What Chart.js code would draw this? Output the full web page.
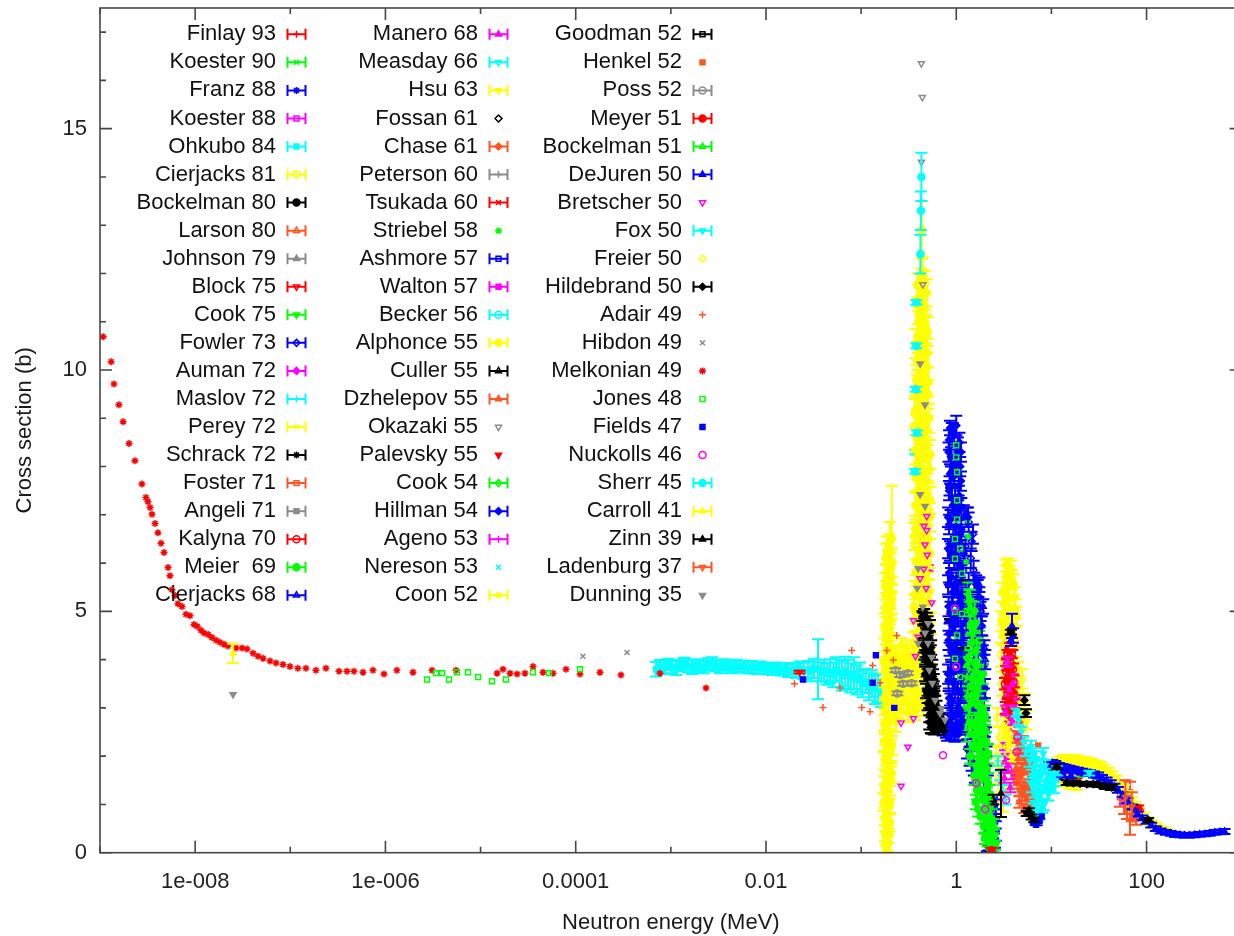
<!DOCTYPE html>
<html>
<head>
<meta charset="utf-8">
<title>Neutron total cross section</title>
<script src="https://cdn.jsdelivr.net/npm/chart.js@4.4.1/dist/chart.umd.min.js"></script>
<style>
  html, body { margin: 0; padding: 0; background: #fff; overflow: hidden; }
  #wrap { width: 1250px; height: 936px; }
</style>
</head>
<body>
<div id="wrap"><canvas id="xsChart" width="1250" height="936"></canvas></div>
<script>
// ==================== Measurements ====================
// each point: [neutron energy (MeV), cross section (b), uncertainty (b)]
const finlay93 = [[13.3, 1.61, 0.04], [18.4, 1.5, 0.04], [150, 0.44, 0.02], [300, 0.36, 0.02]];
const koester90 = [[19.5, 1.63, 0.05]];
const franz88 = [[12, 1.8, 0.06], [200, 0.38, 0.05]];
const koester88 = [[3.55, 2.6, 0.08], [3.25, 2.2, 0.08], [2.36, 0.4, 0.05], [2.4, 0.85, 0.05]];
const ohkubo84 = [
    [7.0e-4, 3.80, 0.15], [7.7e-4, 3.86, 0.13], [8.5e-4, 3.84, 0.14], [9.4e-4, 3.9, 0.12],
    [1.03e-3, 3.85, 0.13], [1.14e-3, 3.82, 0.14], [1.25e-3, 3.88, 0.12], [1.38e-3, 3.92, 0.12],
    [1.51e-3, 3.87, 0.13], [1.67e-3, 3.84, 0.14], [1.84e-3, 3.89, 0.12], [2.02e-3, 3.86, 0.13],
    [2.23e-3, 3.84, 0.12], [2.46e-3, 3.9, 0.13], [2.71e-3, 3.93, 0.12], [2.99e-3, 3.88, 0.12],
    [3.29e-3, 3.85, 0.13], [3.62e-3, 3.89, 0.12], [3.99e-3, 3.86, 0.14], [4.4e-3, 3.84, 0.12],
    [4.84e-3, 3.88, 0.12], [5.33e-3, 3.85, 0.12], [5.87e-3, 3.86, 0.12], [6.47e-3, 3.83, 0.12],
    [7.13e-3, 3.85, 0.12], [7.85e-3, 3.82, 0.12], [8.65e-3, 3.84, 0.12], [9.5e-3, 3.81, 0.11],
    [1.05e-2, 3.83, 0.11], [1.16e-2, 3.8, 0.12], [1.27e-2, 3.82, 0.12], [1.4e-2, 3.79, 0.12],
    [1.55e-2, 3.81, 0.12], [1.7e-2, 3.77, 0.13], [1.88e-2, 3.79, 0.14], [2.07e-2, 3.76, 0.14],
    [2.28e-2, 3.80, 0.16], [2.5e-2, 3.77, 0.17], [2.76e-2, 3.79, 0.18], [3.0e-2, 3.75, 0.2],
    [3.2e-2, 3.82, 0.2], [3.52e-2, 3.8, 0.62], [3.8e-2, 3.74, 0.2], [4.07e-2, 3.78, 0.22],
    [4.4e-2, 3.7, 0.22], [4.71e-2, 3.76, 0.25], [5.1e-2, 3.68, 0.25], [5.44e-2, 3.8, 0.25],
    [5.9e-2, 3.72, 0.28], [6.29e-2, 3.66, 0.3], [6.8e-2, 3.76, 0.3], [7.28e-2, 3.7, 0.3],
    [7.8e-2, 3.62, 0.3], [8.41e-2, 3.72, 0.33], [9.0e-2, 3.58, 0.3], [9.73e-2, 3.64, 0.3],
    [0.104, 3.5, 0.28], [0.112, 3.56, 0.25], [0.121, 3.44, 0.28], [0.130, 3.5, 0.28],
    [0.140, 3.38, 0.3], [0.150, 3.42, 0.3], [0.162, 3.3, 0.28]
];
const cierjacks81 = [
    [2.95, 4.1, 0.25], [4.25, 3.8, 0.25], [3.0, 3.5, 0.25], [4.3, 3.2, 0.25],
    [2.7, 2.8, 0.2], [3.2, 2.6, 0.25], [2.85, 2.4, 0.22], [3.45, 2.2, 0.2], [2.65, 2.0, 0.22],
    [3.05, 1.8, 0.25], [2.8, 1.6, 0.2], [3.3, 1.45, 0.22], [2.9, 1.25, 0.2], [3.1, 1.05, 0.2],
    [4.5, 3.8, 0.15], [4.9, 3.6, 0.2], [4.6, 3.35, 0.2], [5.2, 3.1, 0.2], [4.75, 2.9, 0.2],
    [5.5, 2.75, 0.2], [5.0, 2.55, 0.2]
];
const bockelman80 = [[0.45, 4.85, 0.12], [0.55, 2.72, 0.25], [0.6, 3.1, 0.15]];
const larson80 = [[4.55, 1.5, 0.1], [5.6, 1.25, 0.1]];
const johnson79 = [[0.62, 2.7, 0.05], [0.58, 3.35, 0.05]];
const block75 = [[2.25e-2, 3.74, 0.03]];
const cook75 = [[1.5, 3.0, 0.15], [1.75, 2.3, 0.15], [2.0, 1.3, 0.15]];
const fowler73 = [
    [1.2, 7.05, 0.15], [1.35, 6.85, 0.2], [1.5, 6.6, 0.2], [1.25, 6.35, 0.2], [1.42, 6.1, 0.2],
    [1.18, 5.85, 0.2], [1.55, 5.6, 0.2], [1.3, 5.4, 0.22], [1.45, 5.15, 0.2], [1.22, 4.9, 0.2],
    [1.38, 4.65, 0.2], [1.52, 4.4, 0.22], [1.17, 4.15, 0.2], [1.33, 3.9, 0.2], [1.48, 3.65, 0.2],
    [1.26, 3.4, 0.22], [1.56, 3.15, 0.2], [1.4, 2.9, 0.2], [1.2, 2.65, 0.2], [1.5, 2.4, 0.2],
    [1.3, 2.15, 0.2], [1.45, 1.9, 0.2], [1.57, 1.65, 0.2],
    [1.28, 6.95, 0.2], [1.45, 6.45, 0.2], [1.2, 6.2, 0.2], [1.52, 5.85, 0.2], [1.35, 5.6, 0.2],
    [1.16, 5.25, 0.2], [1.5, 5.0, 0.2], [1.28, 4.75, 0.2], [1.44, 4.5, 0.2], [1.19, 4.3, 0.2],
    [1.56, 4.0, 0.2], [1.3, 3.75, 0.2], [1.42, 3.5, 0.2], [1.2, 3.2, 0.2], [1.52, 2.95, 0.2],
    [1.33, 2.7, 0.2], [1.58, 2.3, 0.2], [1.38, 2.0, 0.2], [1.53, 1.8, 0.2],
    [1.62, 5.6, 0.15], [1.75, 5.3, 0.2], [1.66, 5.0, 0.2], [1.85, 4.7, 0.2], [1.7, 4.4, 0.2],
    [1.9, 4.1, 0.2], [1.64, 3.8, 0.2], [1.8, 3.5, 0.2], [1.95, 3.2, 0.2], [1.72, 2.9, 0.2],
    [2.0, 2.6, 0.2], [1.83, 2.3, 0.2], [2.08, 2.0, 0.2], [1.9, 1.7, 0.2], [2.15, 1.4, 0.2],
    [2.0, 1.1, 0.2], [2.22, 0.85, 0.2], [2.1, 0.6, 0.2], [2.3, 0.4, 0.2], [2.2, 0.2, 0.15],
    [2.35, 0.1, 0.1], [2.4, 0.5, 0.2], [2.45, 0.25, 0.15],
    [1.68, 5.45, 0.2], [1.8, 5.0, 0.2], [1.72, 4.6, 0.2], [1.88, 4.3, 0.2], [1.7, 3.95, 0.2],
    [1.85, 3.65, 0.2], [2.0, 3.4, 0.2], [1.78, 3.05, 0.2], [1.95, 2.75, 0.2], [2.05, 2.4, 0.2],
    [1.88, 2.1, 0.2], [2.12, 1.8, 0.2], [1.98, 1.5, 0.2], [2.2, 1.2, 0.2], [2.1, 0.95, 0.2],
    [2.3, 0.7, 0.2], [2.25, 0.3, 0.15], [2.42, 0.15, 0.1], [2.5, 0.6, 0.2], [2.6, 0.45, 0.2],
    [2.38, 1.05, 0.1],
    [2.1, 0.15, 0.12], [2.55, 0.3, 0.2], [2.6, 0.7, 0.2], [2.3, 0.9, 0.15], [2.5, 1.0, 0.1]
];
const auman72 = [[0.50, 5.9, 0.06], [0.45, 6.55, 0.06]];
const maslov72 = [[2.9, 1.6, 0.1], [3.1, 1.3, 0.1], [3.3, 1.1, 0.1], [2.75, 1.9, 0.1]];
const perey72 = [[12.5, 1.45, 0.08], [15.5, 1.4, 0.08], [18.5, 1.38, 0.08]];
const schrack72 = [[0.88, 7.6, 0.04], [0.92, 6.2, 0.04], [1.12, 5.6, 0.04], [0.86, 4.8, 0.04], [1.2, 4.2, 0.04], [1.42, 3.3, 0.04]];
const foster71 = [[52.6, 1.2, 0.25], [58, 1.1, 0.3], [62.3, 1.0, 0.3], [67, 0.92, 0.55], [72, 0.85, 0.2], [77.5, 0.78, 0.2], [56, 1.3, 0.2]];
const angeli71 = [[21.5, 1.65, 0.04], [30, 1.58, 0.04]];
const kalyna70 = [
    [3.3, 3.0, 0.12], [3.9, 3.05, 0.12], [3.45, 3.3, 0.12], [3.75, 3.45, 0.12], [3.55, 3.65, 0.12],
    [3.95, 3.8, 0.12], [3.4, 3.9, 0.12], [3.65, 4.05, 0.12], [3.85, 4.15, 0.12], [3.55, 4.25, 0.1],
    [3.7, 4.32, 0.08], [3.6, 2.85, 0.12], [4.05, 3.3, 0.12], [3.25, 3.5, 0.12],
    [3.5, 3.1, 0.12], [3.8, 3.35, 0.12], [3.35, 3.75, 0.12], [3.7, 3.95, 0.12], [3.9, 4.3, 0.1],
    [3.45, 4.1, 0.1], [4.0, 3.55, 0.12], [3.6, 3.45, 0.12]
];
const meier69 = [
    [1.3, 5.4, 0.2], [1.55, 5.0, 0.2], [1.4, 4.7, 0.2], [1.75, 4.4, 0.2], [1.25, 4.1, 0.2],
    [1.6, 3.9, 0.2], [1.9, 3.7, 0.2], [1.45, 3.45, 0.2], [1.2, 3.2, 0.2], [1.7, 3.05, 0.2],
    [2.0, 2.85, 0.2], [1.35, 2.7, 0.2], [1.55, 2.45, 0.2], [1.85, 2.25, 0.2], [2.15, 2.05, 0.2],
    [1.4, 2.0, 0.15], [1.65, 1.8, 0.2], [2.0, 1.55, 0.2], [1.8, 1.3, 0.2], [2.25, 1.2, 0.2],
    [1.6, 1.05, 0.15], [2.05, 0.9, 0.2], [2.35, 0.7, 0.2], [1.95, 0.55, 0.15], [2.2, 0.4, 0.15],
    [2.5, 0.35, 0.15], [2.4, 0.15, 0.1],
    [1.35, 5.1, 0.2], [1.5, 4.55, 0.2], [1.65, 4.2, 0.2], [1.3, 3.8, 0.2], [1.8, 3.55, 0.2],
    [1.55, 3.25, 0.2], [1.9, 2.95, 0.2], [1.28, 2.95, 0.2], [1.45, 2.65, 0.2], [1.75, 2.5, 0.2],
    [2.05, 2.3, 0.2], [1.5, 2.2, 0.2], [1.95, 1.9, 0.2], [1.55, 1.6, 0.2], [1.75, 1.5, 0.2],
    [2.15, 1.45, 0.2], [1.9, 1.1, 0.2], [2.25, 0.95, 0.2], [1.7, 0.9, 0.15], [2.1, 0.65, 0.15],
    [2.3, 0.5, 0.15], [2.45, 0.55, 0.15], [2.0, 0.3, 0.12], [2.3, 0.2, 0.12], [2.55, 0.15, 0.1],
    [1.25, 2.5, 0.2], [1.2, 3.6, 0.2],
    [1.4, 5.25, 0.2], [1.6, 4.75, 0.2], [1.45, 4.35, 0.2], [1.35, 4.0, 0.2], [1.7, 3.8, 0.2],
    [1.5, 3.6, 0.2], [1.65, 3.35, 0.2], [1.4, 3.1, 0.2], [1.8, 2.8, 0.2], [1.6, 2.7, 0.2],
    [1.95, 2.55, 0.2], [1.7, 2.15, 0.2], [1.85, 1.7, 0.2], [2.05, 1.75, 0.2], [1.65, 1.3, 0.2],
    [2.1, 1.15, 0.2], [1.8, 0.75, 0.15], [2.2, 0.75, 0.15], [2.15, 0.25, 0.12], [2.4, 0.35, 0.12]
];
const cierjacks68 = [[1.75, 5.55, 0.15], [1.92, 5.1, 0.15], [1.85, 4.7, 0.2], [1.98, 4.25, 0.15], [2.02, 4.0, 0.2]];
const manero68 = [
    [3.45, 3.95, 0.1], [3.9, 3.6, 0.1], [3.6, 3.35, 0.1], [4.1, 3.1, 0.1], [3.35, 2.95, 0.1],
    [3.8, 2.75, 0.1], [3.5, 1.8, 0.1], [3.2, 1.55, 0.1], [3.7, 1.35, 0.1]
];
const measday66 = [[6.0, 2.0, 0.1], [7.0, 1.2, 0.1]];
const hsu63 = [[14.1, 1.95, 0.05]];
const fossan61 = [[0.49, 3.9], [0.55, 3.0]];
const chase61 = [[4.1, 2.4, 0.1], [4.6, 2.7, 0.1]];
const peterson60 = [[24, 1.66, 0.05]];
const tsukada60 = [[3.6, 3.7, 0.1], [3.8, 3.2, 0.1]];
const striebel58 = [[1.33, 6.88], [1.33, 6.55], [1.27, 6.02], [1.27, 5.02], [1.33, 4.09], [1.24, 3.85]];
const ashmore57 = [[7.0, 0.62, 0.05]];
const walton57 = [[3.4, 1.95, 0.1], [4.0, 1.6, 0.08]];
const becker56 = [[0.372, 8.3, 0.05]];
const alphonce55 = [
    // 0.2 MeV region
    [0.186, 0.08, 0.12], [0.182, 0.3, 0.15], [0.192, 0.52, 0.15], [0.178, 0.75, 0.18], [0.197, 0.95, 0.16],
    [0.186, 1.18, 0.2], [0.174, 1.4, 0.18], [0.205, 1.58, 0.2], [0.19, 1.8, 0.2], [0.18, 2.02, 0.22],
    [0.211, 2.22, 0.2], [0.193, 2.45, 0.24], [0.176, 2.66, 0.2], [0.215, 2.88, 0.22], [0.199, 3.1, 0.22],
    [0.183, 3.3, 0.25], [0.222, 3.5, 0.22], [0.188, 3.72, 0.25], [0.174, 3.95, 0.22], [0.208, 4.15, 0.25],
    [0.194, 4.38, 0.25], [0.18, 4.6, 0.28], [0.202, 4.8, 0.25], [0.187, 5.02, 0.28], [0.213, 5.25, 0.3],
    [0.196, 5.45, 0.3], [0.183, 5.68, 0.3], [0.205, 5.9, 0.3], [0.192, 6.12, 0.3], [0.21, 6.5, 1.1],
    [0.2, 6.2, 0.65],
    [0.19, 0.18, 0.15], [0.178, 0.4, 0.16], [0.2, 0.62, 0.18], [0.185, 0.85, 0.17], [0.172, 1.05, 0.18],
    [0.195, 1.28, 0.2], [0.183, 1.5, 0.2], [0.199, 1.7, 0.2], [0.176, 1.92, 0.2], [0.206, 2.12, 0.22],
    [0.188, 2.34, 0.22], [0.181, 2.56, 0.2], [0.203, 2.77, 0.22], [0.192, 2.98, 0.22], [0.175, 3.2, 0.22],
    [0.21, 3.4, 0.22], [0.196, 3.62, 0.24], [0.18, 3.84, 0.22], [0.216, 4.05, 0.24], [0.186, 4.26, 0.25],
    [0.2, 4.48, 0.25], [0.176, 4.7, 0.26], [0.194, 4.92, 0.26], [0.208, 5.13, 0.28], [0.181, 5.35, 0.28],
    [0.2, 5.56, 0.3], [0.19, 5.78, 0.3], [0.212, 6.0, 0.3], [0.185, 6.25, 0.3], [0.198, 6.35, 0.25],
    [0.183, 0.12, 0.12], [0.195, 0.35, 0.15], [0.18, 0.58, 0.15], [0.19, 0.8, 0.18], [0.202, 1.0, 0.18],
    [0.178, 1.22, 0.2], [0.19, 1.45, 0.2], [0.21, 1.65, 0.2], [0.185, 1.88, 0.2], [0.197, 2.08, 0.2],
    [0.174, 2.3, 0.22], [0.2, 2.5, 0.22], [0.188, 2.72, 0.22], [0.179, 2.92, 0.22], [0.207, 3.15, 0.22],
    [0.19, 3.36, 0.22], [0.201, 3.58, 0.24], [0.177, 3.78, 0.22], [0.193, 4.0, 0.24], [0.211, 4.22, 0.25],
    [0.182, 4.42, 0.25], [0.197, 4.65, 0.26], [0.186, 4.86, 0.26], [0.204, 5.08, 0.28], [0.19, 5.3, 0.28],
    [0.178, 5.52, 0.28], [0.207, 5.72, 0.3], [0.195, 5.95, 0.3], [0.18, 6.1, 0.3],
    [0.244, 3.0, 0.2], [0.27, 3.25, 0.2], [0.3, 3.1, 0.22], [0.33, 3.4, 0.2], [0.255, 3.6, 0.22],
    [0.285, 3.85, 0.2], [0.315, 3.7, 0.25], [0.35, 3.95, 0.2], [0.24, 4.1, 0.2], [0.265, 4.3, 0.15],
    [0.36, 3.2, 0.2], [0.233, 2.7, 0.2],
    [0.25, 3.45, 0.2], [0.29, 3.55, 0.2], [0.32, 4.05, 0.2], [0.275, 4.0, 0.18], [0.34, 3.65, 0.2],
    [0.26, 2.95, 0.18], [0.31, 2.9, 0.2], [0.35, 3.05, 0.2], [0.238, 3.9, 0.2], [0.3, 4.25, 0.15],
    // 0.43 MeV resonance
    [0.37, 2.95, 0.2], [0.45, 3.05, 0.22], [0.52, 3.2, 0.2], [0.40, 3.3, 0.25], [0.49, 3.5, 0.22],
    [0.36, 3.6, 0.2], [0.43, 3.75, 0.25], [0.54, 3.9, 0.2], [0.39, 4.05, 0.25], [0.47, 4.2, 0.25],
    [0.355, 4.35, 0.22], [0.51, 4.5, 0.25], [0.42, 4.65, 0.28], [0.38, 4.85, 0.25], [0.48, 5.0, 0.28],
    [0.44, 5.2, 0.3], [0.365, 5.35, 0.28], [0.50, 5.5, 0.3], [0.41, 5.7, 0.3], [0.46, 5.9, 0.3],
    [0.375, 6.05, 0.3], [0.53, 6.2, 0.3], [0.43, 6.4, 0.3], [0.395, 6.6, 0.3], [0.49, 6.8, 0.32],
    [0.45, 7.0, 0.3], [0.37, 7.2, 0.3], [0.5, 7.4, 0.3], [0.42, 7.6, 0.32], [0.46, 7.85, 0.3],
    [0.385, 8.05, 0.32], [0.53, 8.25, 0.3], [0.44, 8.45, 0.3], [0.40, 8.7, 0.32], [0.48, 8.9, 0.3],
    [0.365, 9.1, 0.3], [0.43, 9.3, 0.32], [0.51, 9.5, 0.3], [0.39, 9.7, 0.3], [0.455, 9.9, 0.32],
    [0.415, 10.15, 0.3], [0.5, 10.35, 0.3], [0.375, 10.55, 0.3], [0.44, 10.75, 0.32], [0.47, 10.95, 0.3],
    [0.405, 11.15, 0.3], [0.43, 11.4, 0.3], [0.49, 11.6, 0.28], [0.39, 11.75, 0.25],
    [0.41, 3.15, 0.2], [0.48, 3.4, 0.22], [0.38, 3.7, 0.2], [0.53, 3.6, 0.2], [0.44, 3.95, 0.22],
    [0.5, 4.1, 0.22], [0.37, 4.2, 0.2], [0.45, 4.45, 0.25], [0.4, 4.55, 0.22], [0.54, 4.75, 0.22],
    [0.47, 4.9, 0.25], [0.36, 5.1, 0.25], [0.42, 5.3, 0.25], [0.52, 5.4, 0.25], [0.39, 5.6, 0.25],
    [0.48, 5.75, 0.28], [0.44, 6.0, 0.28], [0.405, 6.25, 0.28], [0.51, 6.5, 0.28], [0.37, 6.7, 0.28],
    [0.46, 6.9, 0.3], [0.42, 7.1, 0.3], [0.535, 7.3, 0.28], [0.39, 7.5, 0.3], [0.47, 7.7, 0.3],
    [0.43, 7.95, 0.3], [0.5, 8.15, 0.3], [0.37, 8.35, 0.3], [0.455, 8.55, 0.3], [0.415, 8.8, 0.3],
    [0.52, 9.0, 0.3], [0.395, 9.2, 0.3], [0.47, 9.4, 0.3], [0.44, 9.6, 0.3], [0.38, 9.8, 0.3],
    [0.49, 10.05, 0.3], [0.425, 10.25, 0.3], [0.455, 10.45, 0.3], [0.395, 10.65, 0.3], [0.48, 10.85, 0.3],
    [0.42, 11.05, 0.3], [0.46, 11.25, 0.3], [0.4, 11.5, 0.28], [0.445, 11.7, 0.25],
    [0.4, 3.05, 0.2], [0.5, 3.3, 0.2], [0.36, 3.45, 0.2], [0.46, 3.6, 0.22], [0.42, 3.85, 0.22],
    [0.52, 4.0, 0.2], [0.39, 4.3, 0.22], [0.48, 4.6, 0.25], [0.43, 4.8, 0.25], [0.37, 5.0, 0.25],
    [0.51, 5.2, 0.25], [0.455, 5.45, 0.25], [0.38, 5.8, 0.28], [0.5, 5.95, 0.28], [0.42, 6.15, 0.28],
    [0.47, 6.35, 0.28], [0.36, 6.55, 0.28], [0.44, 6.75, 0.3], [0.53, 6.95, 0.3], [0.4, 7.15, 0.3],
    [0.48, 7.35, 0.3], [0.45, 7.55, 0.3], [0.38, 7.75, 0.3], [0.52, 7.95, 0.3], [0.41, 8.2, 0.3],
    [0.47, 8.4, 0.3], [0.385, 8.6, 0.3], [0.5, 8.75, 0.3], [0.43, 8.95, 0.3], [0.37, 9.15, 0.3],
    [0.46, 9.35, 0.3], [0.41, 9.55, 0.3], [0.51, 9.75, 0.3], [0.43, 9.95, 0.3], [0.385, 10.2, 0.3],
    [0.47, 10.4, 0.3], [0.44, 10.6, 0.3], [0.5, 10.8, 0.3], [0.4, 11.0, 0.3], [0.45, 11.3, 0.3],
    [0.42, 11.55, 0.28], [0.47, 11.8, 0.25], [0.43, 11.9, 0.2],
    [0.435, 12.9, 0.6], [0.425, 12.4, 0.4], [0.445, 12.05, 0.3],
    // 3.5 MeV peak
    [3.1, 4.5, 0.2], [3.9, 4.7, 0.2], [3.4, 4.9, 0.22], [4.2, 5.05, 0.2], [3.6, 5.25, 0.25],
    [3.05, 5.4, 0.2], [4.0, 5.55, 0.22], [3.3, 5.7, 0.25], [3.75, 5.85, 0.2], [3.5, 5.95, 0.15],
    [3.2, 4.65, 0.2], [3.7, 4.85, 0.2], [4.1, 5.3, 0.2], [3.45, 5.5, 0.22], [3.85, 5.65, 0.2],
    [3.15, 5.15, 0.2], [3.55, 4.6, 0.2], [4.15, 4.45, 0.2], [3.65, 5.8, 0.15], [3.35, 5.95, 0.12],
    [2.98, 4.8, 0.2], [4.3, 4.9, 0.2],
    [3.4, 2.5, 0.1], [3.65, 2.3, 0.1], [3.95, 2.0, 0.1],
    // 10 - 150 MeV
    [10.5, 1.75, 0.08], [11.5, 1.85, 0.1], [12.5, 1.9, 0.1], [13.5, 1.95, 0.08], [15, 1.93, 0.1],
    [16.5, 1.95, 0.08], [18, 1.92, 0.1], [20, 1.9, 0.1], [22, 1.88, 0.1], [24.5, 1.86, 0.1],
    [27, 1.84, 0.1], [30, 1.8, 0.1], [33, 1.78, 0.1], [36, 1.72, 0.1], [40, 1.66, 0.1],
    [44, 1.58, 0.1], [48, 1.5, 0.1], [53, 1.4, 0.1], [58, 1.3, 0.1], [64, 1.18, 0.1],
    [70, 1.06, 0.1], [77, 0.95, 0.1], [85, 0.84, 0.08], [94, 0.74, 0.08], [104, 0.66, 0.08],
    [115, 0.6, 0.06], [127, 0.55, 0.06], [140, 0.5, 0.05], [155, 0.47, 0.05]
];
const culler55 = [[2.45, 1.1, 0.1]];
const dzhelepov55 = [
    [4.4, 2.4, 0.12], [5.0, 2.3, 0.12], [4.7, 2.15, 0.12], [5.6, 2.05, 0.12], [4.5, 1.95, 0.12],
    [5.3, 1.85, 0.12], [6.2, 1.75, 0.12], [4.8, 1.65, 0.12], [5.8, 1.55, 0.12], [4.4, 1.45, 0.12],
    [5.1, 1.35, 0.12], [6.5, 1.3, 0.12], [4.9, 1.2, 0.12], [5.5, 1.1, 0.12], [4.6, 1.05, 0.12],
    [6.0, 0.98, 0.1], [5.2, 0.92, 0.1], [6.8, 1.5, 0.1], [4.25, 1.75, 0.1],
    [4.6, 2.25, 0.12], [5.4, 1.95, 0.12], [4.9, 1.75, 0.12], [5.9, 1.4, 0.12], [4.7, 1.3, 0.12],
    [5.3, 1.2, 0.12], [6.3, 1.1, 0.12], [4.45, 1.6, 0.12], [5.7, 1.8, 0.12], [6.1, 1.5, 0.12],
    [82, 0.8, 0.1]
];
const okazaki55 = [[0.43, 16.35], [0.44, 15.65], [0.43, 14.31], [0.445, 11.77]];
const palevsky55 = [[3.7, 2.95], [3.5, 3.55]];
const cook54 = [[1.3, 3.4, 0.1], [1.6, 2.6, 0.1], [1.85, 1.9, 0.1]];
const hillman54 = [
    [1.0, 8.85, 0.2], [1.33, 6.95, 0.2], [1.71, 5.5, 0.2],
    [0.86, 8.8, 0.15], [0.95, 8.65, 0.2], [1.08, 8.5, 0.2], [0.83, 8.3, 0.2], [1.0, 8.1, 0.25],
    [0.9, 7.9, 0.2], [1.12, 7.7, 0.2], [0.84, 7.5, 0.2], [0.97, 7.3, 0.25], [1.05, 7.1, 0.2],
    [0.87, 6.9, 0.2], [1.13, 6.7, 0.22], [0.93, 6.5, 0.2], [0.82, 6.3, 0.2], [1.02, 6.1, 0.22],
    [1.1, 5.9, 0.2], [0.88, 5.7, 0.2], [0.96, 5.5, 0.22], [1.14, 5.3, 0.2], [0.83, 5.1, 0.2],
    [1.04, 4.9, 0.22], [0.91, 4.7, 0.2], [1.12, 4.5, 0.2], [0.85, 4.3, 0.22], [0.99, 4.1, 0.2],
    [1.08, 3.9, 0.2], [0.82, 3.7, 0.2], [0.94, 3.5, 0.22], [1.13, 3.3, 0.2], [0.87, 3.1, 0.2],
    [1.01, 2.9, 0.2], [0.84, 2.7, 0.2], [0.92, 2.55, 0.15], [0.78, 2.5, 0.12], [0.72, 2.55, 0.12],
    [0.68, 2.6, 0.1], [1.1, 2.6, 0.15],
    [0.9, 8.7, 0.2], [1.04, 8.4, 0.2], [0.88, 8.2, 0.2], [1.1, 8.0, 0.2], [0.95, 7.8, 0.2],
    [0.85, 7.6, 0.2], [1.07, 7.4, 0.2], [0.92, 7.2, 0.2], [1.0, 7.0, 0.2], [0.84, 6.8, 0.2],
    [1.1, 6.6, 0.2], [0.97, 6.4, 0.2], [0.89, 6.2, 0.2], [1.06, 6.0, 0.2], [0.84, 5.8, 0.2],
    [1.0, 5.6, 0.2], [0.92, 5.4, 0.2], [1.09, 5.2, 0.2], [0.87, 5.0, 0.2], [0.98, 4.8, 0.2],
    [1.14, 4.6, 0.2], [0.83, 4.4, 0.2], [0.94, 4.2, 0.2], [1.05, 4.0, 0.2], [0.88, 3.8, 0.2],
    [1.12, 3.6, 0.2], [0.97, 3.4, 0.2], [0.84, 3.2, 0.2], [1.06, 3.0, 0.2], [0.9, 2.8, 0.2],
    [1.14, 2.7, 0.2], [0.96, 2.45, 0.15], [0.8, 2.42, 0.1],
    [0.92, 8.75, 0.15], [0.84, 8.55, 0.2], [1.12, 8.3, 0.2], [0.97, 8.05, 0.2], [0.86, 7.85, 0.2],
    [1.06, 7.6, 0.2], [0.9, 7.35, 0.2], [1.13, 7.15, 0.2], [0.82, 6.95, 0.2], [0.99, 6.75, 0.2],
    [1.08, 6.45, 0.2], [0.86, 6.25, 0.2], [0.95, 6.05, 0.2], [1.13, 5.75, 0.2], [0.82, 5.55, 0.2],
    [1.05, 5.35, 0.2], [0.9, 5.15, 0.2], [1.11, 4.95, 0.2], [0.95, 4.75, 0.2], [0.85, 4.55, 0.2],
    [1.02, 4.35, 0.2], [0.89, 4.15, 0.2], [1.14, 3.95, 0.2], [0.93, 3.75, 0.2], [0.83, 3.55, 0.2],
    [1.04, 3.35, 0.2], [0.91, 3.15, 0.2], [1.1, 2.95, 0.2], [0.86, 2.85, 0.2], [1.0, 2.65, 0.2],
    [0.88, 2.5, 0.15], [1.05, 2.45, 0.12]
];
const ageno53 = [[59, 1.09, 0.08]];
const nereson53 = [[266, 0.36]];
const coon52 = [[110, 0.6, 0.06], [120, 0.55, 0.06], [132, 0.5, 0.05], [145, 0.48, 0.05], [165, 0.46, 0.04]];
const goodman52 = [[5.9, 0.8, 0.04]];
const henkel52 = [[7.25, 2.22]];
const poss52 = [[0.229, 3.78, 0.04], [0.257, 3.68, 0.04], [0.309, 3.72, 0.04], [0.339, 3.51, 0.04], [0.276, 3.5, 0.04], [0.24, 3.3, 0.04]];
const meyer51 = [[81.8, 0.92, 0.06], [2.35, 0.05, 0.05]];
const bockelman51 = [[2.1, 1.0, 0.1], [2.3, 0.5, 0.1], [2.0, 2.6, 0.12]];
const dejuren50 = [
    [3.85, 4.7, 0.25], [3.95, 4.5, 0.15], [3.75, 4.4, 0.12],
    [9.5, 1.82, 0.06], [9.8, 1.7, 0.06], [10, 1.6, 0.06], [10.2, 1.86, 0.06], [11, 1.84, 0.06],
    [11.5, 1.58, 0.06], [12, 1.8, 0.06], [13, 1.78, 0.06], [13.2, 1.62, 0.06], [14, 1.76, 0.06],
    [15.5, 1.74, 0.06], [16, 1.6, 0.06], [17, 1.72, 0.06], [19, 1.7, 0.06], [21, 1.68, 0.06],
    [23, 1.66, 0.06], [25.5, 1.65, 0.06], [28, 1.62, 0.06], [31, 1.6, 0.06], [34, 1.55, 0.06],
    [38, 1.5, 0.06], [42, 1.44, 0.06], [46, 1.37, 0.06], [50, 1.3, 0.06], [56, 1.2, 0.05],
    [63, 1.08, 0.05], [71, 0.95, 0.05], [80, 0.8, 0.05], [90, 0.72, 0.05], [100, 0.65, 0.05],
    [112, 0.57, 0.05], [125, 0.5, 0.05], [140, 0.45, 0.05], [160, 0.42, 0.05], [180, 0.4, 0.05],
    [200, 0.38, 0.05], [225, 0.37, 0.05], [250, 0.36, 0.05], [280, 0.36, 0.05], [320, 0.37, 0.05],
    [360, 0.38, 0.05], [410, 0.39, 0.05], [460, 0.4, 0.05], [520, 0.42, 0.05], [590, 0.43, 0.05],
    [660, 0.44, 0.05]
];
const bretscher50 = [
    [0.489, 6.97], [0.458, 6.77], [0.489, 6.68], [0.469, 6.38], [0.495, 6.17], [0.455, 5.88],
    [0.417, 5.68], [0.482, 5.48], [0.552, 5.18], [0.355, 4.81], [0.397, 4.47], [0.372, 4.07],
    [0.355, 2.78], [0.263, 2.69], [0.31, 2.19], [0.263, 1.38]
];
const fox50 = [
    [4.5, 2.75, 0.1], [4.8, 2.5, 0.1], [5.1, 2.3, 0.1], [4.3, 2.9, 0.08], [5.4, 2.1, 0.1], [25, 1.65, 0.05],
    [6.3, 1.6, 0.12], [6.7, 1.3, 0.15], [7.1, 1.05, 0.15], [6.5, 0.9, 0.12], [7.6, 0.8, 0.1],
    [7.3, 1.55, 0.15], [7.9, 1.25, 0.15], [8.4, 1.0, 0.12], [6.9, 1.95, 0.15], [7.7, 1.8, 0.15],
    [8.8, 1.5, 0.15], [9.3, 1.2, 0.12], [9.8, 1.4, 0.12], [10.3, 1.62, 0.12], [10.9, 1.5, 0.12],
    [11.5, 1.7, 0.1], [8.2, 2.05, 0.12], [6.1, 2.2, 0.12], [5.9, 1.9, 0.12],
    [6.2, 1.4, 0.15], [6.6, 1.75, 0.15], [7.0, 1.5, 0.15], [7.4, 1.2, 0.15], [6.8, 0.95, 0.12],
    [7.8, 1.6, 0.12], [8.6, 1.8, 0.12], [9.0, 1.35, 0.12], [9.6, 1.55, 0.12], [10.6, 1.35, 0.12],
    [7.2, 0.75, 0.1], [6.45, 2.05, 0.12], [8.0, 0.95, 0.12]
];
const freier50 = [[3.3, 2.7], [3.7, 2.45], [3.5, 2.05]];
const hildebrand50 = [
    [3.75, 4.57, 0.05], [5.2, 3.16, 0.1], [5.4, 2.89, 0.08], [11.4, 1.78, 0.05], [14.5, 1.45, 0.05],
    [17.0, 1.44, 0.05], [20.0, 1.43, 0.04], [23.5, 1.42, 0.04], [27.5, 1.42, 0.05], [32.0, 1.4, 0.04],
    [37.0, 1.37, 0.05], [43.0, 1.35, 0.05], [104, 0.68, 0.04],
    // 0.5 MeV shoulder
    [0.45, 4.85, 0.12], [0.5, 4.75, 0.15], [0.47, 4.6, 0.15], [0.52, 4.45, 0.15], [0.455, 4.3, 0.15],
    [0.54, 4.15, 0.15], [0.49, 4.0, 0.15], [0.56, 3.85, 0.15], [0.47, 3.7, 0.15], [0.53, 3.55, 0.15],
    [0.58, 3.4, 0.15], [0.5, 3.25, 0.15], [0.6, 3.1, 0.15], [0.55, 2.95, 0.15], [0.63, 2.8, 0.15],
    [0.52, 2.7, 0.15], [0.66, 2.6, 0.15], [0.58, 2.55, 0.1], [0.69, 2.65, 0.12], [0.55, 2.72, 0.25],
    [0.46, 4.95, 0.1], [0.48, 4.5, 0.15], [0.51, 4.2, 0.15], [0.47, 4.05, 0.15], [0.53, 3.9, 0.15],
    [0.5, 3.65, 0.15], [0.56, 3.45, 0.15], [0.48, 3.35, 0.15], [0.54, 3.2, 0.15], [0.62, 3.0, 0.15],
    [0.52, 2.85, 0.15], [0.58, 2.75, 0.15], [0.65, 2.7, 0.12], [0.71, 2.6, 0.1], [0.61, 2.55, 0.1],
    [0.5, 4.4, 0.15], [0.46, 4.15, 0.15], [0.57, 3.65, 0.15], [0.6, 3.3, 0.15], [0.66, 2.9, 0.12],
    [0.44, 4.9, 0.1], [0.49, 4.85, 0.12], [0.53, 4.7, 0.12], [0.455, 4.55, 0.15], [0.5, 4.35, 0.15],
    [0.545, 4.25, 0.15], [0.475, 4.2, 0.15], [0.52, 4.0, 0.15], [0.555, 3.75, 0.15], [0.49, 3.8, 0.15],
    [0.52, 3.45, 0.15], [0.58, 3.55, 0.15], [0.5, 3.1, 0.15], [0.565, 3.05, 0.15], [0.6, 2.85, 0.15],
    [0.54, 2.6, 0.12], [0.68, 2.75, 0.12], [0.72, 2.65, 0.1], [0.63, 2.6, 0.1], [0.59, 3.2, 0.15]
];
const adair49 = [
    [0.0199, 3.5], [0.0397, 3.01], [0.060, 3.41], [0.0796, 4.19], [0.1014, 3.01], [0.124, 2.92],
    [0.132, 3.88], [0.158, 3.52], [0.186, 4.19], [0.218, 3.99], [0.237, 4.5]
];
const hibdon49 = [[1.19e-4, 4.07], [3.46e-4, 4.15]];
const melkonian49 = [
    [1.08e-9, 10.69], [1.31e-9, 10.17], [1.40e-9, 9.71], [1.58e-9, 9.28], [1.75e-9, 8.93], [2.02e-9, 8.48],
    [2.33e-9, 8.12], [2.76e-9, 7.64], [3.04e-9, 7.36], [3.19e-9, 7.27], [3.36e-9, 7.15], [3.52e-9, 7.01],
    [3.79e-9, 6.82], [4.07e-9, 6.63], [4.38e-9, 6.41], [4.71e-9, 6.22], [5.19e-9, 5.91], [5.44e-9, 5.74],
    [5.71e-9, 5.45], [6.14e-9, 5.33], [6.60e-9, 5.16], [7.28e-9, 5.10], [8.01e-9, 4.94], [8.83e-9, 4.91],
    [9.72e-9, 4.73], [1.05e-8, 4.69], [1.15e-8, 4.61], [1.24e-8, 4.55], [1.37e-8, 4.52], [1.50e-8, 4.46],
    [1.66e-8, 4.40], [1.82e-8, 4.36], [2.01e-8, 4.32], [2.21e-8, 4.28], [2.69e-8, 4.24], [3.11e-8, 4.24],
    [3.51e-8, 4.22], [4.06e-8, 4.13], [4.58e-8, 4.07], [5.17e-8, 4.03], [6.12e-8, 3.97], [7.08e-8, 3.93],
    [8.38e-8, 3.90], [9.93e-8, 3.86], [1.20e-7, 3.82], [1.46e-7, 3.82], [1.86e-7, 3.78], [2.37e-7, 3.82],
    [3.25e-7, 3.76], [3.94e-7, 3.76], [4.67e-7, 3.76], [5.81e-7, 3.74], [7.40e-7, 3.78], [9.66e-7, 3.70],
    [1.32e-6, 3.78], [1.95e-6, 3.74], [3.09e-6, 3.78], [5.52e-6, 3.78], [1.49e-5, 3.72], [1.72e-5, 3.80],
    [2.04e-5, 3.72], [2.42e-5, 3.70], [2.93e-5, 3.72], [3.56e-5, 3.86], [4.53e-5, 3.74], [5.77e-5, 3.72],
    [7.91e-5, 3.80], [1.11e-4, 3.70], [1.80e-4, 3.74], [2.99e-4, 3.68], [7.69e-4, 3.72], [2.34e-3, 3.41]
];
const jones48 = [
    [2.74e-6, 3.59], [3.40e-6, 3.72], [3.94e-6, 3.72], [4.66e-6, 3.59], [5.65e-6, 3.74], [7.37e-6, 3.74],
    [9.40e-6, 3.64], [1.32e-5, 3.55], [1.85e-5, 3.59], [3.56e-5, 3.74], [5.24e-5, 3.72], [1.11e-4, 3.80],
    [0.997, 8.44], [0.997, 8.19], [1.02, 7.88], [1.02, 7.3], [1.02, 6.9], [0.97, 6.5], [1.10, 6.3],
    [0.97, 6.09], [1.15, 5.78], [0.97, 4.99], [1.15, 4.95], [1.02, 4.5], [0.97, 4.02], [1.10, 3.64]
];
const fields47 = [
    [2.45e-2, 3.59], [0.143, 4.09], [0.132, 3.52], [0.223, 3.0],
    [6.4, 0.62], [6.9, 0.58], [7.5, 0.66], [7.9, 0.75]
];
const nuckolls46 = [[0.726, 2.02], [0.97, 5.06], [1.0, 3.86], [1.61, 1.44], [2.01, 0.9], [4.4, 2.4], [4.3, 2.09], [3.5, 1.75], [3.34, 1.09]];
const sherr45 = [
    [0.43, 14.0, 0.5], [0.425, 13.3, 0.4], [0.42, 12.4, 0.4],
    [0.38, 10.5, 0.05], [0.375, 9.6, 0.05], [0.385, 8.7, 0.05], [0.38, 11.4, 0.05], [0.37, 7.9, 0.05]
];
const carroll41 = [[2.5e-8, 4.13, 0.2]];
const zinn39 = [[2.95, 1.23, 0.49], [5.5, 0.81, 0.05], [6.6, 0.68, 0.05], [6.2, 0.74, 0.05], [5.8, 0.88, 0.04]];
const ladenburg37 = [[60, 1.15, 0.35], [70, 0.95, 0.3]];
const dunning35 = [
    [2.5e-8, 3.28],
    [0.505, 4.75], [0.505, 4.34], [0.55, 4.05], [0.52, 3.78], [0.56, 3.51], [0.6, 3.16],
    [0.675, 2.89], [0.76, 2.75], [0.70, 2.99],
    [0.417, 10.13], [0.469, 9.28], [0.417, 7.42], [0.469, 7.18], [0.397, 5.89], [0.388, 5.48],
    [0.445, 5.09], [0.397, 4.34], [0.469, 4.55]
];

const seriesNames = [
    'Finlay 93', 'Koester 90', 'Franz 88', 'Koester 88', 'Ohkubo 84', 'Cierjacks 81', 'Bockelman 80',
    'Larson 80', 'Johnson 79', 'Block 75', 'Cook 75', 'Fowler 73', 'Auman 72', 'Maslov 72',
    'Perey 72', 'Schrack 72', 'Foster 71', 'Angeli 71', 'Kalyna 70', 'Meier  69', 'Cierjacks 68',
    'Manero 68', 'Measday 66', 'Hsu 63', 'Fossan 61', 'Chase 61', 'Peterson 60', 'Tsukada 60',
    'Striebel 58', 'Ashmore 57', 'Walton 57', 'Becker 56', 'Alphonce 55', 'Culler 55', 'Dzhelepov 55',
    'Okazaki 55', 'Palevsky 55', 'Cook 54', 'Hillman 54', 'Ageno 53', 'Nereson 53', 'Coon 52',
    'Goodman 52', 'Henkel 52', 'Poss 52', 'Meyer 51', 'Bockelman 51', 'DeJuren 50', 'Bretscher 50',
    'Fox 50', 'Freier 50', 'Hildebrand 50', 'Adair 49', 'Hibdon 49', 'Melkonian 49', 'Jones 48',
    'Fields 47', 'Nuckolls 46', 'Sherr 45', 'Carroll 41', 'Zinn 39', 'Ladenburg 37', 'Dunning 35'
];
const seriesData = [
    finlay93, koester90, franz88, koester88, ohkubo84, cierjacks81, bockelman80,
    larson80, johnson79, block75, cook75, fowler73, auman72, maslov72,
    perey72, schrack72, foster71, angeli71, kalyna70, meier69, cierjacks68,
    manero68, measday66, hsu63, fossan61, chase61, peterson60, tsukada60,
    striebel58, ashmore57, walton57, becker56, alphonce55, culler55, dzhelepov55,
    okazaki55, palevsky55, cook54, hillman54, ageno53, nereson53, coon52,
    goodman52, henkel52, poss52, meyer51, bockelman51, dejuren50, bretscher50,
    fox50, freier50, hildebrand50, adair49, hibdon49, melkonian49, jones48,
    fields47, nuckolls46, sherr45, carroll41, zinn39, ladenburg37, dunning35
];
// series plotted as bare points
const noErrorBars = [
    'Fossan 61', 'Striebel 58', 'Okazaki 55', 'Palevsky 55', 'Nereson 53', 'Henkel 52', 'Bretscher 50',
    'Freier 50', 'Adair 49', 'Hibdon 49', 'Melkonian 49', 'Jones 48', 'Fields 47', 'Nuckolls 46', 'Dunning 35'
];

// axis ticks
const energyDecades = [-9, -8, -7, -6, -5, -4, -3, -2, -1, 0, 1, 2, 3];
const labelledDecades = [-8, -6, -4, -2, 0, 2];
const labelledDecadeText = ['1e-008', '1e-006', '0.0001', '0.01', '1', '100'];
const sigmaTicks = [0, 1, 2, 3, 4, 5, 6, 7, 8, 9, 10, 11, 12, 13, 14, 15, 16, 17];
const sigmaLabels = [0, 5, 10, 15];

// ==================== Styling ====================
const palette = ['#ff0000', '#00ff00', '#0000ff', '#ff00ff', '#00ffff', '#ffff00', '#000000', '#ff5522', '#8c8c8c'];
const markers = [
    { style: 'cross', fill: false },
    { style: 'crossRot', fill: false },
    { style: 'star', fill: false },
    { style: 'rect', fill: false },
    { style: 'rect', fill: true },
    { style: 'circle', fill: false },
    { style: 'circle', fill: true },
    { style: 'triangle', fill: false },
    { style: 'triangle', fill: true },
    { style: 'triangle', fill: false, rotation: 180 },
    { style: 'triangle', fill: true, rotation: 180 },
    { style: 'rectRot', fill: false },
    { style: 'rectRot', fill: true }
];
const FONT = '"Liberation Sans", Arial, sans-serif';
const POINT_RADIUS = 3.5;
const POINT_LINE = 1.5;
const BAR_LINE = 2;
const CAP_HALF = 6;

// key layout (relative to the plot area)
const keyRows = 21;
const keyTextRight = [176, 378, 582];
const keyFirstRow = 26.3;
const keyRowStep = 28.05;
const keySampleGap = 20.5;

Chart.defaults.font.family = FONT;
Chart.defaults.font.size = 22;
Chart.defaults.color = '#1a1a1a';

// ==================== Datasets ====================
const datasets = seriesNames.map((name, i) => {
    const color = palette[i % palette.length];
    const mk = markers[i % markers.length];
    return {
        label: name,
        data: seriesData[i].map(p => ({ x: p[0], y: p[1], err: p[2] || 0 })),
        order: -i,
        showLine: false,
        pointStyle: mk.style,
        pointRotation: mk.rotation || 0,
        pointRadius: POINT_RADIUS,
        borderWidth: POINT_LINE,
        borderColor: color,
        backgroundColor: mk.fill ? color : 'rgba(0,0,0,0)',
        errorBars: !noErrorBars.includes(name)
    };
});

// ==================== Plugins ====================
const errorBarPlugin = {
    id: 'errorBars',
    beforeDatasetDraw(chart, args) {
        const ds = chart.data.datasets[args.index];
        if (!ds.errorBars) return;
        const { ctx, chartArea: a } = chart;
        const yScale = chart.scales.y;
        ctx.save();
        ctx.beginPath();
        ctx.rect(a.left, a.top, a.right - a.left, a.bottom - a.top);
        ctx.clip();
        ctx.strokeStyle = ds.borderColor;
        ctx.lineWidth = BAR_LINE;
        ctx.beginPath();
        args.meta.data.forEach((pt, j) => {
            const d = ds.data[j];
            if (!d.err) return;
            const top = yScale.getPixelForValue(d.y + d.err);
            const bot = yScale.getPixelForValue(d.y - d.err);
            ctx.moveTo(pt.x, top); ctx.lineTo(pt.x, bot);
            ctx.moveTo(pt.x - CAP_HALF, top); ctx.lineTo(pt.x + CAP_HALF, top);
            ctx.moveTo(pt.x - CAP_HALF, bot); ctx.lineTo(pt.x + CAP_HALF, bot);
        });
        ctx.stroke();
        ctx.restore();
    }
};

// border box with inward ticks on all four sides
const framePlugin = {
    id: 'frame',
    afterDatasetsDraw(chart) {
        const { ctx, chartArea: a, scales: { x, y } } = chart;
        ctx.save();
        ctx.strokeStyle = '#464646';
        ctx.lineWidth = 1.6;
        ctx.strokeRect(a.left, a.top, a.right - a.left, a.bottom - a.top);
        ctx.beginPath();
        energyDecades.forEach(d => {
            const px = x.getPixelForValue(Math.pow(10, d));
            const len = labelledDecades.includes(d) ? 12 : 6;
            ctx.moveTo(px, a.bottom); ctx.lineTo(px, a.bottom - len);
            ctx.moveTo(px, a.top); ctx.lineTo(px, a.top + len);
        });
        sigmaTicks.forEach(v => {
            const py = y.getPixelForValue(v);
            const len = sigmaLabels.includes(v) ? 12 : 6;
            ctx.moveTo(a.left, py); ctx.lineTo(a.left + len, py);
            ctx.moveTo(a.right, py); ctx.lineTo(a.right - len, py);
        });
        ctx.stroke();
        ctx.restore();
    }
};

// gnuplot-style key: right-aligned titles with a sample to the right
const keyPlugin = {
    id: 'key',
    afterDraw(chart) {
        const { ctx, chartArea: a } = chart;
        const drawPoint = Chart.helpers && Chart.helpers.drawPoint;
        ctx.save();
        ctx.font = '22px ' + FONT;
        ctx.textAlign = 'right';
        ctx.textBaseline = 'middle';
        chart.data.datasets.forEach((ds, i) => {
            const col = Math.floor(i / keyRows);
            const row = i % keyRows;
            const tx = a.left + keyTextRight[col];
            const ty = a.top + keyFirstRow + row * keyRowStep;
            ctx.fillStyle = '#111';
            ctx.fillText(ds.label, tx, ty);

            const sx = tx + keySampleGap;
            ctx.strokeStyle = ds.borderColor;
            ctx.fillStyle = ds.backgroundColor;
            if (ds.errorBars) {
                ctx.lineWidth = BAR_LINE;
                ctx.beginPath();
                ctx.moveTo(sx - 9, ty); ctx.lineTo(sx + 9, ty);
                ctx.moveTo(sx - 9, ty - 5.5); ctx.lineTo(sx - 9, ty + 5.5);
                ctx.moveTo(sx + 9, ty - 5.5); ctx.lineTo(sx + 9, ty + 5.5);
                ctx.stroke();
            }
            if (drawPoint) {
                ctx.lineWidth = POINT_LINE;
                drawPoint(ctx, {
                    pointStyle: ds.pointStyle,
                    rotation: ds.pointRotation,
                    radius: POINT_RADIUS,
                    borderWidth: POINT_LINE
                }, sx, ty);
            }
        });
        ctx.restore();
    }
};

// ==================== Chart ====================
const ctx = document.getElementById('xsChart').getContext('2d');
new Chart(ctx, {
    type: 'scatter',
    data: { datasets: datasets },
    options: {
        responsive: false,
        animation: false,
        events: [],
        devicePixelRatio: 1,
        layout: { padding: { left: 0, top: 8, right: 8.3, bottom: 0 } },
        plugins: {
            legend: { display: false },
            tooltip: { enabled: false }
        },
        scales: {
            x: {
                type: 'logarithmic',
                min: 1e-9,
                max: 1e3,
                grid: { display: false, drawTicks: false },
                border: { display: false },
                afterBuildTicks: scale => {
                    scale.ticks = energyDecades.map(d => ({ value: Math.pow(10, d) }));
                },
                afterFit: scale => {
                    scale.height = 83.3;
                    scale.paddingLeft = 0;
                    scale.paddingRight = 0;
                },
                ticks: {
                    autoSkip: false,
                    maxRotation: 0,
                    minRotation: 0,
                    padding: 16,
                    color: '#222',
                    callback: function (value) {
                        const d = Math.round(Math.log10(value));
                        const k = labelledDecades.indexOf(d);
                        return k >= 0 ? labelledDecadeText[k] : '';
                    }
                },
                title: {
                    display: true,
                    text: 'Neutron energy (MeV)',
                    color: '#1a1a1a',
                    padding: { top: 0, bottom: 0 }
                }
            },
            y: {
                type: 'linear',
                min: 0,
                max: 17.5,
                grid: { display: false, drawTicks: false },
                border: { display: false },
                afterBuildTicks: scale => {
                    scale.ticks = sigmaTicks.map(v => ({ value: v }));
                },
                afterFit: scale => {
                    scale.width = 100;
                    scale.paddingTop = 0;
                    scale.paddingBottom = 0;
                },
                ticks: {
                    autoSkip: false,
                    padding: 13,
                    color: '#222',
                    callback: function (value) {
                        return sigmaLabels.includes(value) ? String(value) : '';
                    }
                },
                title: {
                    display: true,
                    text: 'Cross section (b)',
                    color: '#1a1a1a',
                    padding: { top: 12, bottom: 0 }
                }
            }
        }
    },
    plugins: [errorBarPlugin, framePlugin, keyPlugin]
});
</script>
</body>
</html>
